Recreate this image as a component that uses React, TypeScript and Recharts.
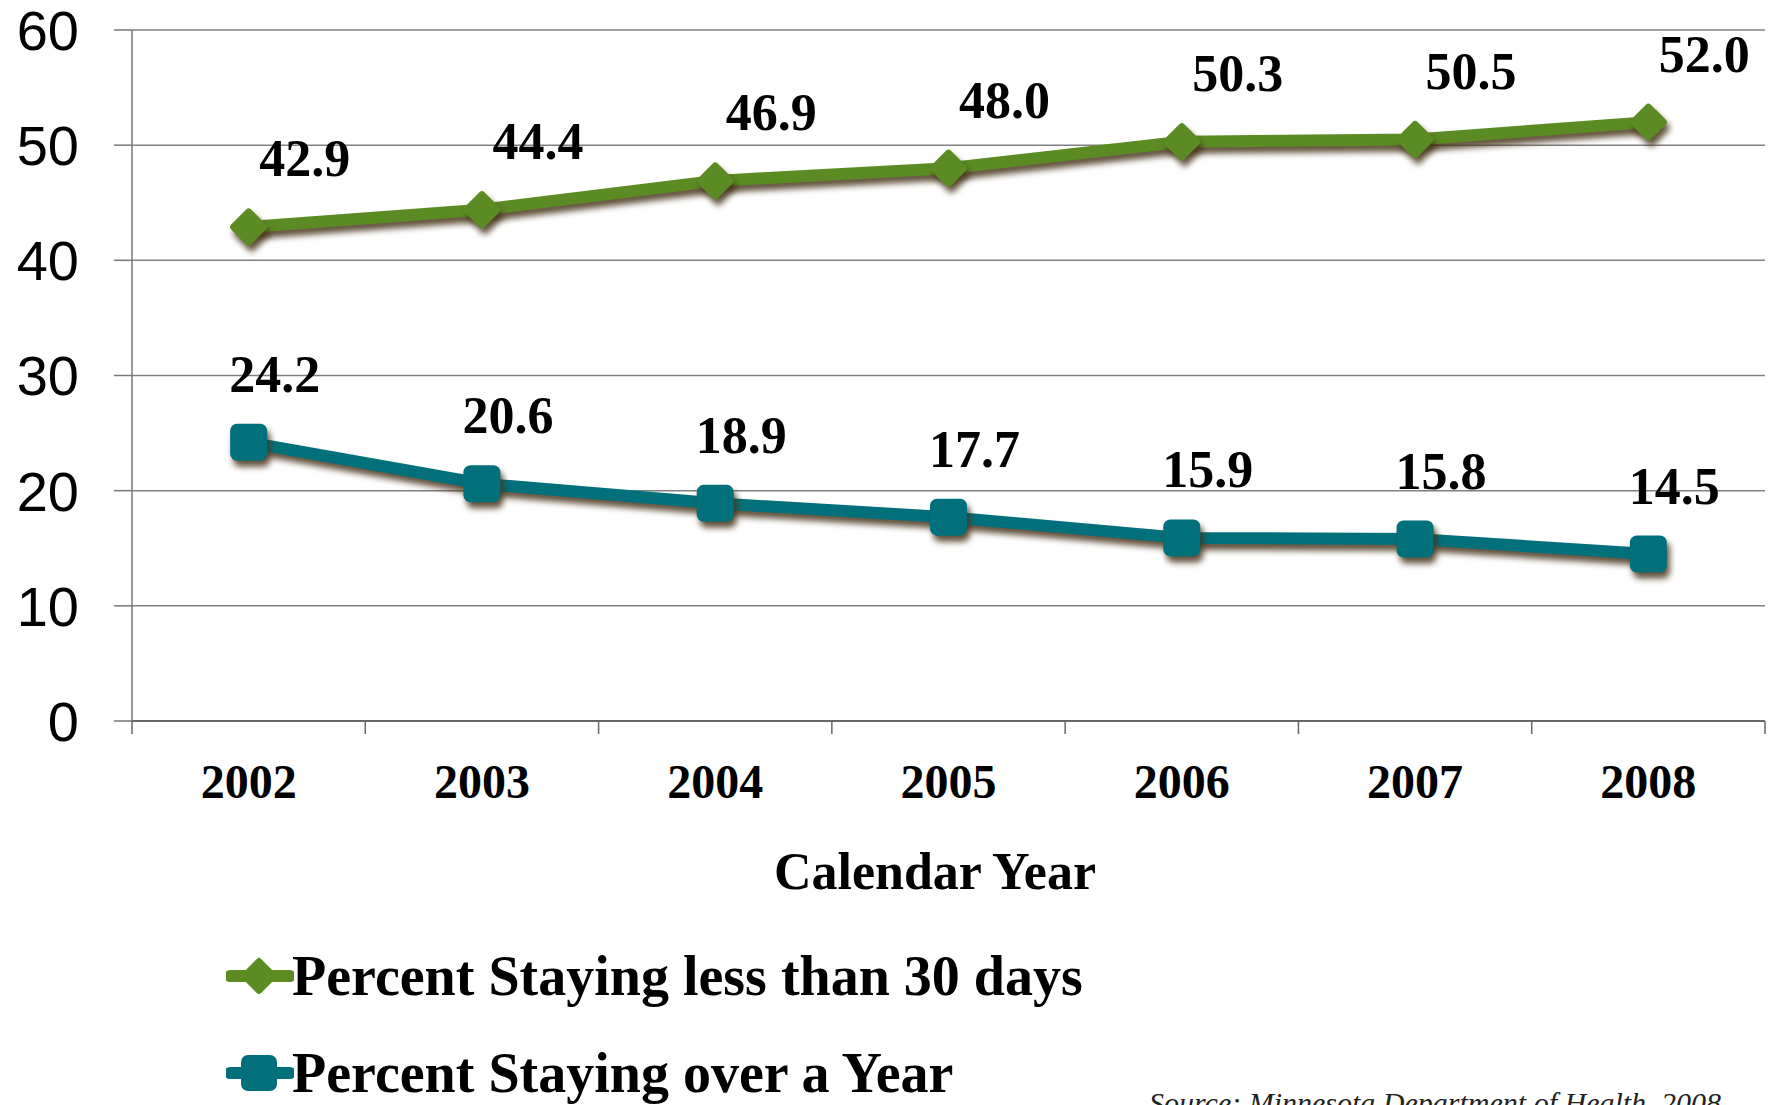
import React from 'react';
import { LineChart, Line, XAxis, YAxis, CartesianGrid, LabelList } from 'recharts';

const years = ['2002', '2003', '2004', '2005', '2006', '2007', '2008'];
const shortStay = [42.9, 44.4, 46.9, 48.0, 50.3, 50.5, 52.0];
const longStay = [24.2, 20.6, 18.9, 17.7, 15.9, 15.8, 14.5];
const yTicks = [0, 10, 20, 30, 40, 50, 60];
const seriesNames = ['Percent Staying less than 30 days', 'Percent Staying over a Year'];
const axisTitle = 'Calendar Year';
const sourceText = 'Source: Minnesota Department of Health, 2008';

const GREEN = '#5b8c24';
const TEAL = '#02707a';
const SERIF = '"Liberation Serif", "Times New Roman", serif';
const SANS = '"Liberation Sans", Arial, sans-serif';

const data = years.map((y, i) => ({ x: i + 0.5, year: y, short: shortStay[i], long: longStay[i] }));
const xTicks: number[] = [];
for (let i = 0; i <= years.length * 2; i++) xTicks.push(i / 2);

const Diamond = (props: any) => {
  const { cx, cy, index } = props;
  if (cx == null || cy == null) return <g key={`dm-${index}`} />;
  const r = 15;
  return (
    <polygon
      key={`dm-${index}`}
      points={`${cx - r},${cy} ${cx},${cy - r} ${cx + r},${cy} ${cx},${cy + r}`}
      fill={GREEN}
      stroke={GREEN}
      strokeWidth={7}
      strokeLinejoin="round"
    />
  );
};

const Square = (props: any) => {
  const { cx, cy, index } = props;
  if (cx == null || cy == null) return <g key={`sq-${index}`} />;
  const s = 37;
  return <rect key={`sq-${index}`} x={cx - s / 2} y={cy - s / 2} width={s} height={s} rx={7} ry={7} fill={TEAL} />;
};

const makeLabel = (dx: number) => (props: any) => {
  const { x, y, value, index } = props;
  return (
    <text
      key={`lb-${dx}-${index}`}
      x={x + dx}
      y={y - 68}
      textAnchor="middle"
      dominantBaseline="central"
      fontFamily={SERIF}
      fontWeight="bold"
      fontSize={52}
      fill="#000"
    >
      {Number(value).toFixed(1)}
    </text>
  );
};

const XTick = (props: any) => {
  const { x, y, payload } = props;
  const v = payload.value as number;
  if (Number.isInteger(v)) {
    return <line x1={x} x2={x} y1={y} y2={y + 13} stroke="#666" strokeWidth={1.5} />;
  }
  const idx = Math.floor(v);
  return (
    <text
      x={x}
      y={y + 60}
      textAnchor="middle"
      dominantBaseline="central"
      fontFamily={SERIF}
      fontWeight="bold"
      fontSize={48}
      fill="#000"
    >
      {years[idx]}
    </text>
  );
};

const LegendMarker = ({ kind, color }: { kind: string; color: string }) => (
  <svg width={68} height={40} style={{ display: 'block' }}>
    <line x1={4} x2={64} y1={20} y2={20} stroke={color} strokeWidth={12} strokeLinecap="round" />
    {kind === 'diamond' ? (
      <polygon points="18,20 33,5 48,20 33,35" fill={color} stroke={color} strokeWidth={6} strokeLinejoin="round" />
    ) : (
      <rect x={15} y={2} width={36} height={36} rx={7} ry={7} fill={color} />
    )}
  </svg>
);

export default function App() {
  return (
    <div
      style={{
        position: 'fixed',
        left: 0,
        top: 0,
        width: 1775,
        height: 1105,
        overflow: 'hidden',
        background: '#fff',
      }}
    >
      <style>{`
        .recharts-line-curve, .recharts-line-dots {
          filter: drop-shadow(3px 6px 3px rgba(70, 50, 25, 0.85));
        }
      `}</style>
      <LineChart width={1775} height={1105} data={data} margin={{ top: 30, right: 10, bottom: 284, left: 0 }}>
        <CartesianGrid horizontal vertical={false} stroke="#808080" strokeWidth={1.5} />
        <XAxis
          dataKey="x"
          type="number"
          domain={[0, 7]}
          ticks={xTicks}
          interval={0}
          tick={<XTick />}
          tickLine={false}
          tickSize={0}
          tickMargin={0}
          height={100}
          axisLine={{ stroke: '#555', strokeWidth: 1.5 }}
        />
        <YAxis
          type="number"
          domain={[0, 60]}
          ticks={yTicks}
          interval={0}
          width={132}
          tickSize={18}
          tickMargin={35}
          tickLine={{ stroke: '#777', strokeWidth: 1.5 }}
          axisLine={{ stroke: '#777', strokeWidth: 1.5 }}
          tick={{ fontFamily: SANS, fontSize: 56, fill: '#000' }}
        />
        <Line
          dataKey="short"
          name={seriesNames[0]}
          stroke={GREEN}
          strokeWidth={12}
          strokeLinejoin="round"
          dot={Diamond}
          activeDot={false}
          isAnimationActive={false}
        >
          <LabelList dataKey="short" content={makeLabel(56)} />
        </Line>
        <Line
          dataKey="long"
          name={seriesNames[1]}
          stroke={TEAL}
          strokeWidth={12}
          strokeLinejoin="round"
          dot={Square}
          activeDot={false}
          isAnimationActive={false}
        >
          <LabelList dataKey="long" content={makeLabel(26)} />
        </Line>
      </LineChart>
      <div
        style={{
          position: 'absolute',
          left: 735,
          width: 400,
          top: 872 - 30,
          height: 60,
          lineHeight: '60px',
          textAlign: 'center',
          fontFamily: SERIF,
          fontWeight: 'bold',
          fontSize: 52,
          color: '#000',
        }}
      >
        {axisTitle}
      </div>
      {[0, 1].map((i) => (
        <div
          key={i}
          style={{
            position: 'absolute',
            left: 226,
            top: (i === 0 ? 976 : 1073) - 30,
            height: 60,
            display: 'flex',
            alignItems: 'center',
            whiteSpace: 'nowrap',
          }}
        >
          <LegendMarker kind={i === 0 ? 'diamond' : 'square'} color={i === 0 ? GREEN : TEAL} />
          <span
            style={{
              fontFamily: SERIF,
              fontWeight: 'bold',
              fontSize: 56,
              lineHeight: '60px',
              color: '#000',
              marginLeft: -2,
            }}
          >
            {seriesNames[i]}
          </span>
        </div>
      ))}
      <div
        style={{
          position: 'absolute',
          left: 1149,
          top: 1085,
          fontFamily: SERIF,
          fontStyle: 'italic',
          fontSize: 30,
          lineHeight: '36px',
          color: '#222',
          whiteSpace: 'nowrap',
        }}
      >
        {sourceText}
      </div>
    </div>
  );
}
